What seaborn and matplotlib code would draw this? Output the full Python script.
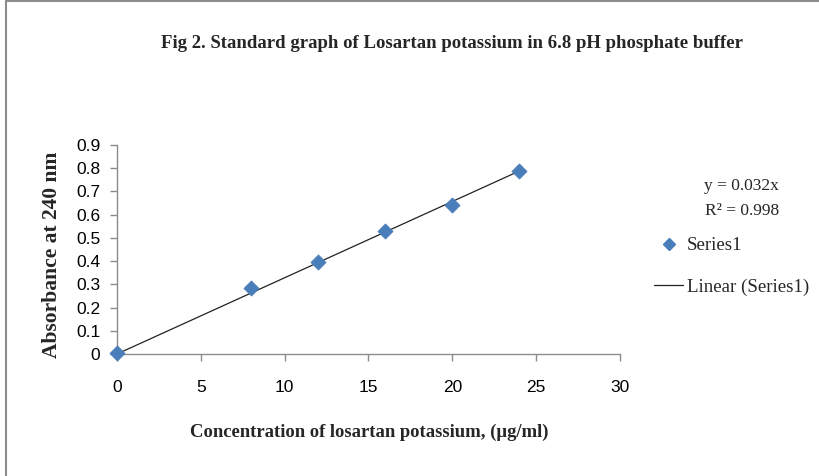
import numpy as np
import pandas as pd
import matplotlib
matplotlib.use("Agg")
import matplotlib.pyplot as plt
from matplotlib.lines import Line2D
import seaborn as sns

# Data
concentration = [0, 8, 12, 16, 20, 24]
absorbance = [0.003, 0.285, 0.395, 0.528, 0.643, 0.790]
x_ticks = [0, 5, 10, 15, 20, 25, 30]
y_ticks = [0, 0.1, 0.2, 0.3, 0.4, 0.5, 0.6, 0.7, 0.8, 0.9]
equation_text = "y = 0.032x"
r2_text = "R² = 0.998"

df = pd.DataFrame({"conc": concentration, "abs": absorbance})

sns.set_style("white")
plt.rcParams["font.family"] = ["Liberation Sans", "DejaVu Sans"]

fig = plt.figure(figsize=(8.2, 4.76), dpi=100)
ax = fig.add_axes([117 / 820, 1 - 354 / 476, (620 - 117) / 820, (354 - 145) / 476])

# linear trendline through origin
x = np.array(concentration, dtype=float)
y = np.array(absorbance, dtype=float)
slope = (x * y).sum() / (x * x).sum()
xl = np.array([x.min(), x.max()])
sns.lineplot(x=xl, y=slope * xl, ax=ax, color="#222222", lw=0.9, zorder=2)

sns.scatterplot(data=df, x="conc", y="abs", ax=ax, marker="D", s=60,
                color="#4a7ebb", edgecolor="#4a7ebb", linewidth=0.5, zorder=3,
                clip_on=False)

ax.set_xlim(0, 30)
ax.set_ylim(0, 0.9)
ax.set_xticks(x_ticks)
ax.set_yticks(y_ticks)
ax.set_xticklabels([str(t) for t in x_ticks])
ax.set_yticklabels(["0" if t == 0 else f"{t:.1f}" for t in y_ticks])
for s in ["top", "right"]:
    ax.spines[s].set_visible(False)
for s in ["left", "bottom"]:
    ax.spines[s].set_color("#8c8c8c")
    ax.spines[s].set_linewidth(1.0)
ax.tick_params(axis="both", which="major", direction="out", length=5,
               width=1.0, color="#8c8c8c", labelsize=12.5, labelcolor="#000000",
               left=True, bottom=True)
ax.tick_params(axis="x", pad=14)
ax.tick_params(axis="y", pad=7)

serif = ["Liberation Serif", "DejaVu Serif"]
ax.set_xlabel("")
ax.set_ylabel("")
fig.text(369 / 820, 1 - 432 / 476, "Concentration of losartan potassium, (µg/ml)",
         ha="center", va="center", fontsize=13.4, fontweight="bold", family=serif)
fig.text(52 / 820, 1 - 255 / 476, "Absorbance at 240 nm", rotation=90,
         ha="center", va="center", fontsize=15.5, fontweight="bold", family=serif)
fig.text(452 / 820, 1 - 44 / 476,
         "Fig 2. Standard graph of Losartan potassium in 6.8 pH phosphate buffer",
         ha="center", va="center", fontsize=13.5, fontweight="bold", family=serif)

# trendline annotation
fig.text(741 / 820, 1 - 186 / 476, equation_text, ha="center", va="center",
         fontsize=12.5, family=serif)
fig.text(742 / 820, 1 - 211 / 476, r2_text, ha="center", va="center",
         fontsize=12.5, family=serif)

# legend
handles = [
    Line2D([], [], marker="D", color="#4a7ebb", linestyle="none", markersize=6),
    Line2D([], [], color="#222222", lw=0.9),
]
leg = fig.legend(handles, ["Series1", "Linear (Series1)"], loc="upper left",
                 bbox_to_anchor=(654 / 820, 1 - 237 / 476), frameon=False,
                 prop={"family": serif, "size": 13.6}, handlelength=1.55,
                 handletextpad=0.2, labelspacing=1.3, borderpad=0,
                 borderaxespad=0)

# outer chart border (left and top visible)
fig.add_artist(Line2D([6 / 820, 6 / 820], [0, 1 - 1 / 476], transform=fig.transFigure,
                      color="#8c8c8c", lw=1.5))
fig.add_artist(Line2D([6 / 820, 1], [1 - 1 / 476, 1 - 1 / 476], transform=fig.transFigure,
                      color="#8c8c8c", lw=1.5))

fig.savefig("out.png", dpi=100)
